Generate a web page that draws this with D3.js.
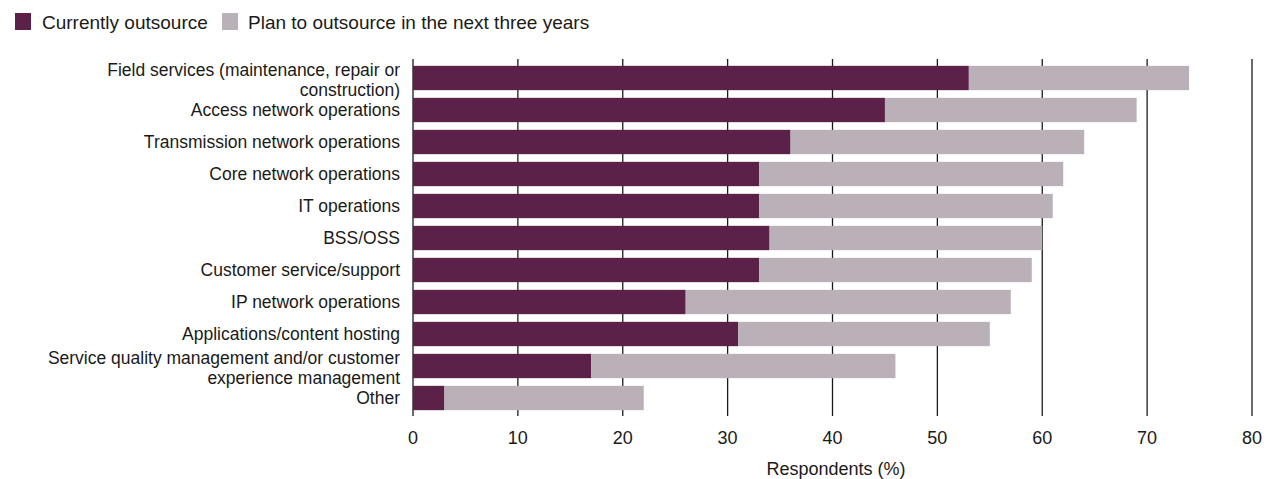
<!DOCTYPE html>
<html>
<head>
<meta charset="utf-8">
<script src="https://cdn.jsdelivr.net/npm/d3@7"></script>
<style>
  body { margin: 0; background: #fff; }
  text { font-family: "Liberation Sans", Arial, sans-serif; fill: #1a1a1a; }
</style>
</head>
<body>
<div id="chart"></div>
<script>
const categories = [
  ["Field services (maintenance, repair or", "construction)"],
  ["Access network operations"],
  ["Transmission network operations"],
  ["Core network operations"],
  ["IT operations"],
  ["BSS/OSS"],
  ["Customer service/support"],
  ["IP network operations"],
  ["Applications/content hosting"],
  ["Service quality management and/or customer", "experience management"],
  ["Other"]
];
const currently = [53, 45, 36, 33, 33, 34, 33, 26, 31, 17, 3];
const plan = [21, 24, 28, 29, 28, 26, 26, 31, 24, 29, 19];
const seriesNames = ["Currently outsource", "Plan to outsource in the next three years"];
const xTicks = [0, 10, 20, 30, 40, 50, 60, 70, 80];

const colors = ["#5b2148", "#bab0b8"];
const W = 1274, H = 479;

const svg = d3.select("#chart").append("svg")
  .attr("width", W).attr("height", H);

const x = d3.scaleLinear().domain([0, 80]).range([413, 1252]);
const y = d3.scaleBand()
  .domain(d3.range(categories.length))
  .range([62, 414])
  .paddingInner(0.24).paddingOuter(0.12);

// gridlines
svg.append("g").selectAll("line")
  .data(xTicks).enter().append("line")
  .attr("x1", d => x(d)).attr("x2", d => x(d))
  .attr("y1", 59).attr("y2", 416)
  .attr("stroke", "#1a1a1a").attr("stroke-width", 1.3);

// stacked bars
const rows = categories.map((c, i) => ({i: i, cur: currently[i], plan: plan[i]}));
const g = svg.append("g");
g.selectAll("rect.cur").data(rows).enter().append("rect")
  .attr("class", "cur")
  .attr("x", x(0))
  .attr("y", d => y(d.i))
  .attr("width", d => x(d.cur) - x(0))
  .attr("height", y.bandwidth())
  .attr("fill", colors[0]);
g.selectAll("rect.plan").data(rows).enter().append("rect")
  .attr("class", "plan")
  .attr("x", d => x(d.cur))
  .attr("y", d => y(d.i))
  .attr("width", d => x(d.cur + d.plan) - x(d.cur))
  .attr("height", y.bandwidth())
  .attr("fill", colors[1]);

// category labels
const labels = svg.append("g").selectAll("text")
  .data(categories).enter().append("text")
  .attr("text-anchor", "end")
  .attr("font-size", 17.5)
  .attr("x", 400)
  .attr("y", (d, i) => {
    const c = y(i) + y.bandwidth() / 2 + 6;
    return d.length > 1 ? c - 8 : c;
  });
labels.selectAll("tspan").data(d => d).enter().append("tspan")
  .attr("x", 400)
  .attr("dy", (d, j) => j === 0 ? 0 : 20)
  .text(d => d);

// x tick labels
svg.append("g").selectAll("text")
  .data(xTicks).enter().append("text")
  .attr("x", d => x(d)).attr("y", 444)
  .attr("text-anchor", "middle")
  .attr("font-size", 18)
  .text(d => d);

svg.append("text")
  .attr("x", 836).attr("y", 475)
  .attr("text-anchor", "middle")
  .attr("font-size", 18)
  .text("Respondents (%)");

// source (cut off at the bottom, as in the original)
const src = svg.append("text").attr("x", 6).attr("y", 492).attr("font-size", 19);
src.append("tspan").text("Source: ");
src.append("tspan").attr("font-style", "italic").text("Informa Telecoms & Media");

// legend
const legendX = [15, 222];
const lg = svg.append("g").selectAll("g")
  .data(seriesNames).enter().append("g")
  .attr("transform", (d, i) => `translate(${legendX[i]},0)`);
lg.append("rect").attr("x", 0).attr("y", 13).attr("width", 16).attr("height", 17)
  .attr("fill", (d, i) => colors[i]);
lg.append("text").attr("x", (d, i) => i === 0 ? 27 : 26).attr("y", 28.5).attr("font-size", 19).text(d => d);
</script>
</body>
</html>
